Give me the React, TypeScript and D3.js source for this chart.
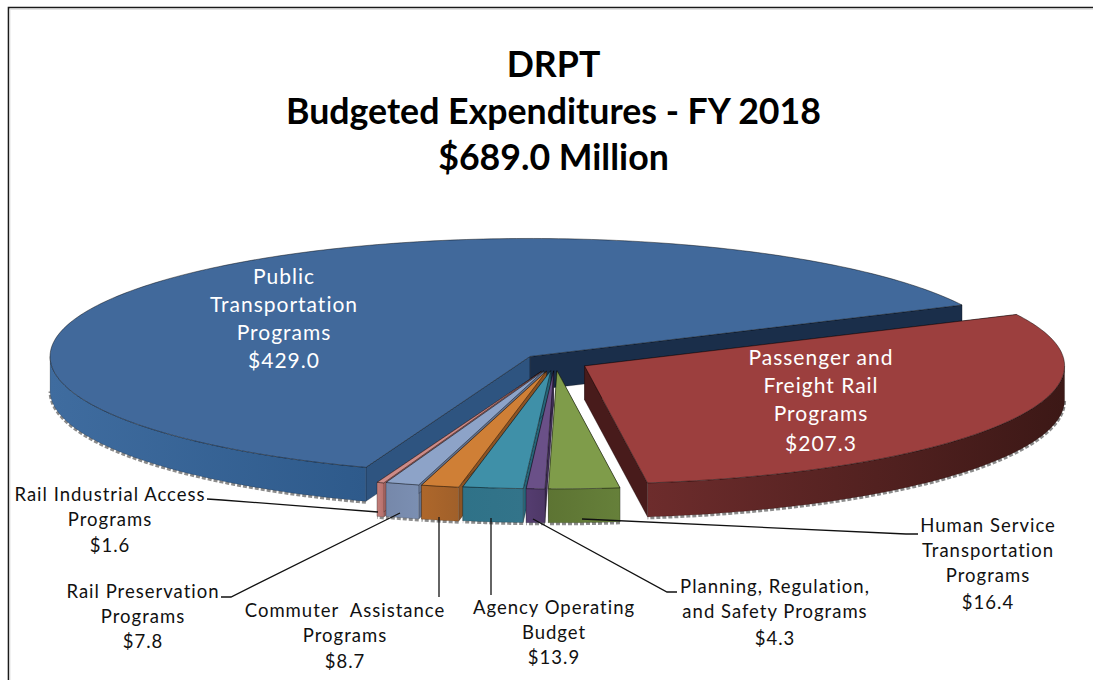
import React from "react";
import * as d3 from "d3";

const categories = [
  "Public Transportation Programs",
  "Passenger and Freight Rail Programs",
  "Human Service Transportation Programs",
  "Planning, Regulation, and Safety Programs",
  "Agency Operating Budget",
  "Commuter Assistance Programs",
  "Rail Preservation Programs",
  "Rail Industrial Access Programs",
];
const values = [429.0, 207.3, 16.4, 4.3, 13.9, 8.7, 7.8, 1.6];
const explode = [0.07, 0.07, 0.075, 0.075, 0.075, 0.08, 0.08, 0.085];
const topColors = ["#41699b", "#9c3f3e", "#7f9c4a", "#6a5088", "#3f90a8", "#cf7f36", "#8da3c8", "#cd8b88"];
const sideFrom = ["#3f6c9f", "#6d2c2c", "#5d7433", "#553d70", "#2f7288", "#ae672b", "#7688aa", "#c27f7b"];
const sideTo = ["#2e5a8b", "#3c1816", "#66803a", "#4e3867", "#33748a", "#a0602a", "#7b8fb2", "#b8706c"];
const wallStart = ["#2e5480", "#5a2423", "#4f6330", "#3f2d55", "#276478", "#8c5324", "#62728f", "#a56663"];
const wallEnd = ["#1a2e4a", "#481b1b", "#4f6330", "#3f2d55", "#276478", "#8c5324", "#62728f", "#a56663"];
const drawOrder = [0, 1, 7, 6, 5, 4, 3, 2];

const titleLines = ["DRPT", "Budgeted Expenditures - FY 2018", "$689.0 Million"];
const labels = [
  { lines: ["Public", "Transportation", "Programs", "$429.0"], x: 284, ys: [284, 312, 340, 368], fill: "#fff" },
  { lines: ["Passenger and", "Freight Rail", "Programs", "$207.3"], x: 821, ys: [365, 393, 421, 451], fill: "#fff" },
  { lines: ["Human Service", "Transportation", "Programs", "$16.4"], x: 988, ys: [532, 557, 582, 609], fill: "#111" },
  { lines: ["Planning, Regulation,", "and Safety Programs", "$4.3"], x: 775, ys: [593, 618, 645], fill: "#111" },
  { lines: ["Agency Operating", "Budget", "$13.9"], x: 554, ys: [614, 639, 664], fill: "#111" },
  { lines: ["Commuter  Assistance", "Programs", "$8.7"], x: 345, ys: [617, 642, 668], fill: "#111" },
  { lines: ["Rail Preservation", "Programs", "$7.8"], x: 143, ys: [598, 623, 648], fill: "#111" },
  { lines: ["Rail Industrial Access", "Programs", "$1.6"], x: 110, ys: [501, 526, 552], fill: "#111" },
];
const leaders: [number, number][][] = [
  [[207, 499], [222, 500], [378, 512]],
  [[221, 597], [231, 597], [400, 513]],
  [[439, 517], [439, 597]],
  [[491, 518], [491, 595]],
  [[533, 519], [667, 592], [677, 592]],
  [[582, 519], [906, 534], [918, 534]],
];

const originX = 555;
const originY = 362;
const radiusX = 480;
const radiusY = 118;
const depth = 34;
const rot = (-160 * Math.PI) / 180;

const pie = d3.pie<number>().sort(null).startAngle(rot).endAngle(rot + 2 * Math.PI);
const slices = pie(values);
const lineGen = d3.line();
const HALF = Math.PI;

function arcSamples(a0: number, a1: number) {
  const n = Math.max(2, Math.ceil(((a1 - a0) * 180) / Math.PI));
  return d3.range(n + 1).map((i) => a0 + ((a1 - a0) * i) / n);
}

export default function App() {
  const marks = drawOrder.map((idx) => {
    const s = slices[idx];
    const mid = (s.startAngle + s.endAngle) / 2;
    const cx = originX + explode[idx] * radiusX * Math.sin(mid);
    const cy = originY - explode[idx] * radiusY * Math.cos(mid);
    const sx = d3.scaleLinear().domain([-1, 1]).range([cx - radiusX, cx + radiusX]);
    const sy = d3.scaleLinear().domain([-1, 1]).range([cy - radiusY, cy + radiusY]);
    const pt = (a: number, z = 0): [number, number] => [sx(Math.sin(a)), sy(-Math.cos(a)) + z];
    const c: [number, number] = [cx, cy];
    const top = lineGen([c, ...arcSamples(s.startAngle, s.endAngle).map((a) => pt(a))]) + "Z";
    const wall = (a: number) =>
      lineGen([c, pt(a), pt(a, depth), [cx, cy + depth]]) + "Z";
    // visible part of the rim: the near half of the ellipse
    const ranges = [-1.5 * HALF, 0.5 * HALF]
      .map((b) => [Math.max(s.startAngle, b), Math.min(s.endAngle, b + HALF)])
      .filter(([lo, hi]) => hi > lo);
    return (
      <g key={idx}>
        <defs>
          <linearGradient id={`side${idx}`} x1="0" x2="1" y1="0" y2="0">
            <stop offset="0" stopColor={sideFrom[idx]} />
            <stop offset="1" stopColor={sideTo[idx]} />
          </linearGradient>
        </defs>
        <path d={wall(s.startAngle)} fill={wallStart[idx]} stroke="rgba(0,0,0,0.35)" strokeWidth={0.7} />
        <path d={wall(s.endAngle)} fill={wallEnd[idx]} stroke="rgba(0,0,0,0.35)" strokeWidth={0.7} />
        {ranges.map(([lo, hi], j) => {
          const as = arcSamples(lo, hi);
          const front = as.map((a) => pt(a));
          const back = as.map((a) => pt(a, depth)).reverse();
          const bottom = as.map((a) => pt(a, depth + 1));
          return (
            <g key={j}>
              <path d={lineGen(bottom) ?? ""} fill="none" stroke="#8c8c8c" strokeWidth={3} strokeDasharray="4 2" />
              <path d={lineGen([...front, ...back]) + "Z"} fill={`url(#side${idx})`} stroke="rgba(0,0,0,0.3)" strokeWidth={0.6} />
            </g>
          );
        })}
        <path d={top} fill={topColors[idx]} stroke="rgba(0,0,0,0.55)" strokeWidth={0.8} strokeLinejoin="round">
          <title>{`${categories[idx]}: $${values[idx].toFixed(1)}`}</title>
        </path>
      </g>
    );
  });

  return (
    <svg
      width={1093}
      height={680}
      viewBox="0 0 1093 680"
      style={{ position: "absolute", left: 0, top: 0, background: "#fff" }}
    >
      <path d="M8.5 680V7.5H1093" fill="none" stroke="#1a1a1a" strokeWidth={1.6} />
      <path d="M10 680V9.5H1093" fill="none" stroke="#e4e4e4" strokeWidth={1} />
      {titleLines.map((t, i) => (
        <text
          key={t}
          x={553.5}
          y={77 + i * 46.5}
          textAnchor="middle"
          fontFamily="Lato"
          fontWeight={700}
          fontSize={35.7}
          fill="#000"
        >
          {t}
        </text>
      ))}
      {marks}
      {leaders.map((p, i) => (
        <path key={i} d={lineGen(p) ?? ""} fill="none" stroke="#111" strokeWidth={1.3} />
      ))}
      {labels.map((l) =>
        l.lines.map((t, i) => (
          <text
            key={t}
            x={l.x}
            y={l.ys[i]}
            textAnchor="middle"
            fontFamily="Lato"
            fontSize={l.fill === "#fff" ? 21 : 18.5}
            letterSpacing={1}
            fill={l.fill}
            style={{ whiteSpace: "pre" }}
          >
            {t}
          </text>
        ))
      )}
    </svg>
  );
}
